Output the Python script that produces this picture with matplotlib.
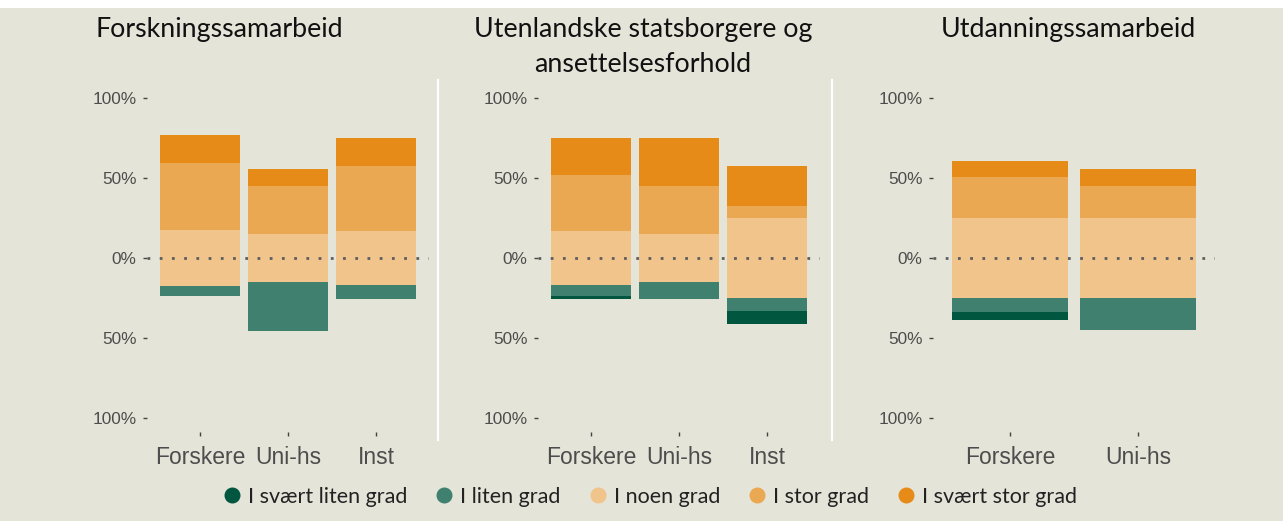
import matplotlib
matplotlib.use("Agg")
import matplotlib.pyplot as plt
from matplotlib.patches import Rectangle
from matplotlib.lines import Line2D

# ---------------- data ----------------
levels = ["I svært liten grad", "I liten grad", "I noen grad", "I stor grad", "I svært stor grad"]
colors = ["#00563F", "#3F806F", "#F0C48B", "#EBA852", "#E68B18"]

titles = ["Forskningssamarbeid", "Utenlandske statsborgere og\nansettelsesforhold", "Utdanningssamarbeid"]

cats_1 = ["Forskere", "Uni-hs", "Inst"]
svaert_liten_1 = [0.0, 0.0, 0.0]
liten_1 = [5.8, 30.8, 8.9]
noen_1 = [35.6, 29.6, 33.2]
stor_1 = [41.8, 30.2, 40.9]
svaert_stor_1 = [17.2, 10.8, 17.4]

cats_2 = ["Forskere", "Uni-hs", "Inst"]
svaert_liten_2 = [1.9, 0.0, 8.4]
liten_2 = [6.85, 10.6, 7.8]
noen_2 = [33.3, 29.6, 50.6]
stor_2 = [35.25, 30.2, 7.4]
svaert_stor_2 = [22.9, 29.8, 24.8]

cats_3 = ["Forskere", "Uni-hs"]
svaert_liten_3 = [4.75, 0.0]
liten_3 = [9.1, 19.9]
noen_3 = [49.8, 50.6]
stor_3 = [25.9, 19.7]
svaert_stor_3 = [9.6, 10.6]

y_ticks = [100, 50, 0, -50, -100]
y_ticklabels = ["100%", "50%", "0%", "50%", "100%"]

panels = [
    (cats_1, svaert_liten_1, liten_1, noen_1, stor_1, svaert_stor_1),
    (cats_2, svaert_liten_2, liten_2, noen_2, stor_2, svaert_stor_2),
    (cats_3, svaert_liten_3, liten_3, noen_3, stor_3, svaert_stor_3),
]

# ---------------- layout ----------------
W, H = 1283, 521
BG = "#E5E4D9"
fig = plt.figure(figsize=(W / 100, H / 100), dpi=100)
fig.patch.set_facecolor(BG)
fig.patches.append(Rectangle((0, 1 - 8 / H), 1, 8 / H, transform=fig.transFigure,
                             facecolor="white", edgecolor="none", zorder=0))

ax_lefts = [147, 538, 933]
ax_w = 282
ax_top, ax_bot = 83.6, 432.4

title_pos = [(96, "left"), (643, "center"), (1068, "center")]

for i, (cats, sl, l, n, s, ss) in enumerate(panels):
    ax = fig.add_axes([ax_lefts[i] / W, 1 - ax_bot / H, ax_w / W, (ax_bot - ax_top) / H])
    ax.set_facecolor("none")
    x = list(range(1, len(cats) + 1))
    half = [v / 2 for v in n]
    # positive side
    ax.bar(x, n, bottom=[-h for h in half], width=0.9, color=colors[2], linewidth=0)
    ax.bar(x, s, bottom=half, width=0.9, color=colors[3], linewidth=0)
    ax.bar(x, ss, bottom=[h + v for h, v in zip(half, s)], width=0.9, color=colors[4], linewidth=0)
    # negative side
    ax.bar(x, [-v for v in l], bottom=[-h for h in half], width=0.9, color=colors[1], linewidth=0)
    ax.bar(x, [-v for v in sl], bottom=[-h - v for h, v in zip(half, l)], width=0.9,
           color=colors[0], linewidth=0)
    ax.axhline(0, color="#5E5E5E", linewidth=2.0, linestyle=(0, (1, 3.4)), zorder=5)
    ax.set_xlim(0.4, len(cats) + 0.6)
    ax.set_ylim(-109, 109)
    ax.set_yticks(y_ticks)
    ax.set_yticklabels(y_ticklabels)
    ax.set_xticks(x)
    ax.set_xticklabels(cats)
    for sp in ax.spines.values():
        sp.set_visible(False)
    ax.tick_params(axis="y", length=3, width=1, color="#444444", pad=4.5,
                   labelsize=12.4, labelcolor="#4D4D4D")
    ax.tick_params(axis="x", length=3, width=1, color="#444444", pad=7,
                   labelsize=16.5, labelcolor="#4D4D4D")
    for t in ax.get_xticklabels() + ax.get_yticklabels():
        t.set_fontfamily("Liberation Sans")

    # title (one text per line, baselines 35 px apart)
    tx, ha = title_pos[i]
    for k, line in enumerate(titles[i].split("\n")):
        fig.text(tx / W, 1 - (37 + 35 * k) / H, line, ha=ha, va="baseline", fontsize=19.3,
                 family="Lato", color="#111111")

# separators
for sx in [438, 832]:
    fig.add_artist(Line2D([sx / W, sx / W], [1 - 80 / H, 1 - 440 / H], transform=fig.transFigure,
                          color="white", linewidth=1.6))

# legend
handles = [Line2D([], [], marker="o", linestyle="none", markersize=10.5, markerfacecolor=c,
                  markeredgecolor=c) for c in colors]
fig.legend(handles, levels, loc="center", bbox_to_anchor=(649 / W, 1 - 497 / H), ncol=5,
           frameon=False, prop={"family": "Lato", "size": 15.5}, handletextpad=0.24,
           columnspacing=1.22, handlelength=1.0, labelcolor="#222222")

fig.savefig("out.png", dpi=100, facecolor=fig.get_facecolor())
